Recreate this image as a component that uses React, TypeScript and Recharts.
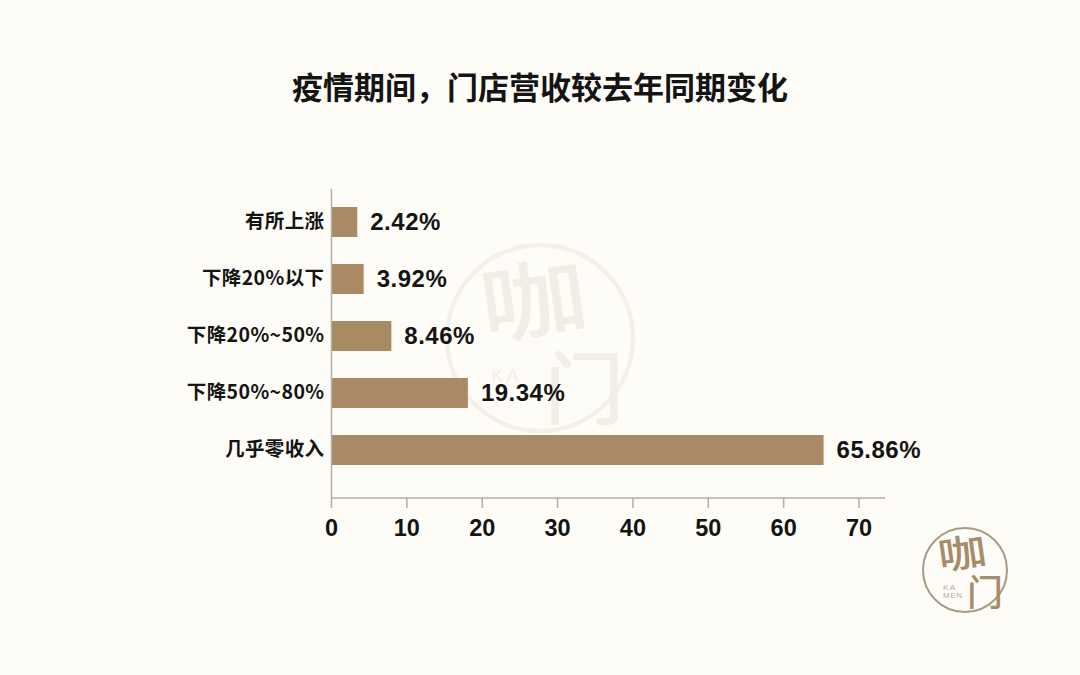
import { BarChart, Bar, XAxis, YAxis, LabelList } from 'recharts';

const categories = ['有所上涨', '下降20%以下', '下降20%~50%', '下降50%~80%', '几乎零收入'];
// bar lengths as drawn in the picture (they differ a little from the printed labels)
const barLengths = [3.42, 4.27, 7.94, 18.1, 65.3];
const valueLabels = ['2.42%', '3.92%', '8.46%', '19.34%', '65.86%'];
const xTicks = [0, 10, 20, 30, 40, 50, 60, 70];

const data = categories.map((name, i) => ({ name, value: barLengths[i], label: valueLabels[i] }));

const CJK = '"Noto Sans CJK SC", sans-serif';
const LATIN = '"Liberation Sans", Arial, sans-serif';

function Logo({ cx, cy, r, ring, ink, inkSoft, showMen }: { cx: number; cy: number; r: number; ring: string; ink: string; inkSoft: string; showMen: boolean }) {
  const s = r / 42;
  return (
    <g>
      <circle cx={cx} cy={cy} r={r} fill="none" stroke={ring} strokeWidth={2 * s} />
      <text
        textAnchor="middle"
        fontFamily={CJK}
        fontWeight={500}
        fontSize={38 * s}
        fill={ink}
        transform={`translate(${cx - 1 * s} ${cy - 3 * s}) rotate(-8) scale(1.28 1)`}
      >
        咖
      </text>
      <text x={cx + 20 * s} y={cy + 36 * s} textAnchor="middle" fontFamily={CJK} fontWeight={500} fontSize={36 * s} fill={ink}>
        门
      </text>
      <text x={cx - 22 * s} y={cy + 20 * s} fontFamily={LATIN} fontSize={8 * s} letterSpacing={1.5 * s} fill={inkSoft}>
        KA
      </text>
      {showMen && (
        <text x={cx - 22 * s} y={cy + 28 * s} fontFamily={LATIN} fontSize={8 * s} letterSpacing={0.6 * s} fill={inkSoft}>
          MEN
        </text>
      )}
    </g>
  );
}

function ValueLabel(props: any) {
  const { x, y, width, height, value } = props;
  return (
    <text
      x={x + width + 13}
      y={y + height / 2 + 8}
      fontFamily={LATIN}
      fontSize={24}
      fontWeight={700}
      letterSpacing={0.5}
      fill="#141414"
    >
      {value}
    </text>
  );
}

export default function App() {
  return (
    <div style={{ position: 'absolute', left: 0, top: 0, width: 1080, height: 675, background: '#fefcf6', overflow: 'hidden' }}>
      <svg width={1080} height={675} style={{ position: 'absolute', left: 0, top: 0 }}>
        <Logo cx={540} cy={338} r={93} ring="#f3f0e9" ink="#f1eee7" inkSoft="#f1eee7" showMen={false} />
        <Logo cx={965} cy={570} r={42} ring="#a89b86" ink="#a58d6c" inkSoft="#b5ab9a" showMen={true} />
      </svg>
      <div
        style={{
          position: 'absolute',
          left: 0,
          top: 64,
          width: 1080,
          textAlign: 'center',
          fontFamily: CJK,
          fontWeight: 700,
          fontSize: 31,
          lineHeight: '44px',
          color: '#141414',
        }}
      >
        疫情期间，门店营收较去年同期变化
      </div>
      <div style={{ position: 'absolute', left: 0, top: 0 }}>
        <BarChart
          width={1080}
          height={675}
          data={data}
          layout="vertical"
          margin={{ top: 189, right: 195, bottom: 117, left: 0 }}
        >
          <XAxis
            type="number"
            domain={[0, 73.45]}
            ticks={xTicks}
            interval={0}
            height={60}
            axisLine={{ stroke: '#b3aea4', strokeWidth: 1.5 }}
            tickLine={{ stroke: '#b3aea4', strokeWidth: 1.5 }}
            tickSize={10}
            tickMargin={11}
            tick={{ fontFamily: LATIN, fontSize: 23.5, fontWeight: 700, fill: '#141414' }}
          />
          <YAxis
            type="category"
            dataKey="name"
            width={331.5}
            interval={0}
            padding={{ top: 4, bottom: 20 }}
            axisLine={{ stroke: '#b3aea4', strokeWidth: 1.5 }}
            tickLine={false}
            tickMargin={1}
            tick={{ fontFamily: CJK, fontSize: 19.5, fontWeight: 700, letterSpacing: 0.4, fill: '#141414' }}
          />
          <Bar dataKey="value" fill="#a98a65" barSize={30} isAnimationActive={false}>
            <LabelList dataKey="label" content={ValueLabel} />
          </Bar>
        </BarChart>
      </div>
    </div>
  );
}
